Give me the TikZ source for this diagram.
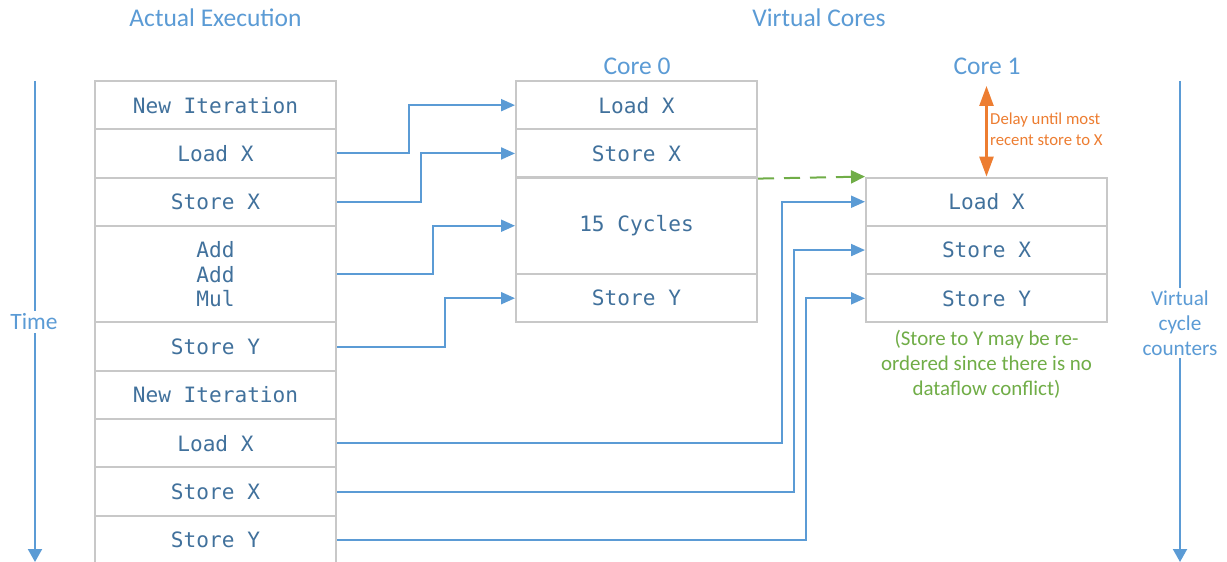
\documentclass[tikz,border=0pt]{standalone}
\usepackage{fontspec}
\setmainfont{Carlito}
\newfontfamily\monof{DejaVu Sans Mono}
\usetikzlibrary{arrows.meta}
\definecolor{lblue}{HTML}{5B9BD5}
\definecolor{mtext}{HTML}{41719C}
\definecolor{gbox}{HTML}{C8C8C8}
\definecolor{ggreen}{HTML}{70AD47}
\definecolor{gorange}{HTML}{ED7D31}
\begin{document}
\begin{tikzpicture}[x=1bp,y=-1bp,
  cell/.style={draw=gbox, line width=2bp, minimum width=241bp, minimum height=48.3bp,
    inner sep=0pt, font=\monof\fontsize{21.2}{25}\selectfont, text=mtext, align=center},
  tall/.style={cell, minimum height=96.6bp},
  conn/.style={draw=lblue, line width=2bp, -{Triangle[length=14bp,width=12bp]}},
  ttl/.style={text=lblue, font=\fontsize{25.6}{30}\selectfont, inner sep=0pt},
  side/.style={text=lblue, font=\fontsize{21.3}{25}\selectfont, fill=white, inner sep=3bp, align=center},
  axis/.style={draw=lblue, line width=2bp, -{Triangle[length=13bp,width=14bp]}},
]
\useasboundingbox (0,0) rectangle (1227,562);
\fill[white] (0,0) rectangle (1227,562);

% titles
\node[ttl] (tae) at (215.5,18) {Actual Execution};
\node[ttl] (tvc) at (819,18) {Virtual Cores};
\node[ttl] (tc0) at (637,66.5) {Core 0};
\node[ttl] (tc1) at (987,66.5) {Core 1};

% time axes
\coordinate (t0) at (35,81);
\coordinate (t1) at (35,562);
\draw[axis] (t0) -- (t1);
\node[side, font=\fontsize{23.5}{25}\selectfont] (time) at (34,322) {Time};
\coordinate (v0) at (1180,81);
\coordinate (v1) at (1180,562);
\draw[axis] (v0) -- (v1);
\node[side] (vcc) at (1180,323) {Virtual\\cycle\\counters};

% actual execution column
\node[cell] (a1) at (215.5,105.15) {New Iteration};
\node[cell] (a2) at (215.5,153.45) {Load X};
\node[cell] (a3) at (215.5,201.75) {Store X};
\node[tall] (a4) at (215.5,274.2) {Add\\Add\\Mul};
\node[cell] (a5) at (215.5,346.65) {Store Y};
\node[cell] (a6) at (215.5,394.95) {New Iteration};
\node[cell] (a7) at (215.5,443.25) {Load X};
\node[cell] (a8) at (215.5,491.55) {Store X};
\node[cell] (a9) at (215.5,539.85) {Store Y};

% core 0
\node[cell] (c1) at (636.5,105.15) {Load X};
\node[cell] (c2) at (636.5,153.45) {Store X};
\node[tall] (c3) at (636.5,225.75) {15 Cycles};
\node[cell] (c4) at (636.5,298.2) {Store Y};

% core 1
\node[cell] (d1) at (986.5,201.75) {Load X};
\node[cell] (d2) at (986.5,250.05) {Store X};
\node[cell] (d3) at (986.5,298.35) {Store Y};

% connectors
\draw[conn] (a2.east) -- ++(72,0) |- (c1.west);
\draw[conn] (a3.east) -- ++(84,0) |- (c2.west);
\draw[conn] (a4.east) -- ++(96,0) |- (c3.west);
\draw[conn] (a5.east) -- ++(108,0) |- (c4.west);
\draw[conn] (a7.east) -- ++(445,0) |- (d1.west);
\draw[conn] (a8.east) -- ++(457,0) |- (d2.west);
\draw[conn] (a9.east) -- ++(469,0) |- (d3.west);

% green dashed dependency
\draw[draw=ggreen, line width=2bp, dash pattern=on 16bp off 10bp,
  -{Triangle[length=14bp,width=13bp]}] (c2.south east) -- (d1.north west);

% orange delay arrow
\coordinate (otop) at (986.5,86);
\draw[draw=gorange, line width=2.6bp,
  {Triangle[length=20bp,width=14bp]}-{Triangle[length=20bp,width=14bp]}] (otop) -- (d1.north);
\node[text=gorange, font=\fontsize{16.8}{21}\selectfont, align=left, anchor=west, inner sep=0pt]
  (delay) at (990,129.5) {Delay until most\\recent store to X};

% green note
\node[text=ggreen, font=\fontsize{21}{25}\selectfont, align=center, inner sep=0pt]
  (note) at (986.5,364) {(Store to Y may be re-\\ordered since there is no\\dataflow conflict)};
\end{tikzpicture}
\end{document}
